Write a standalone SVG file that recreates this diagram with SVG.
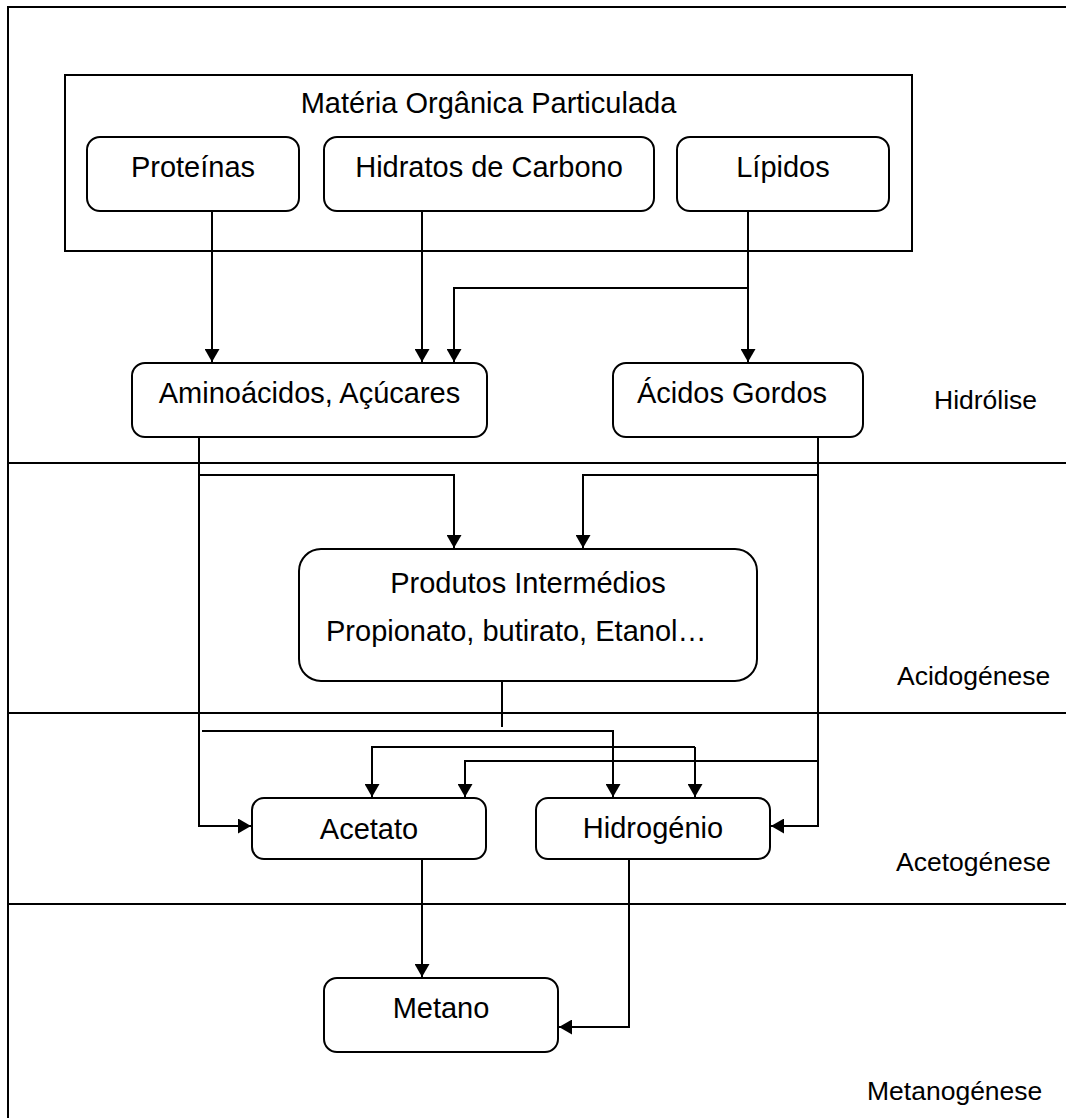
<svg xmlns="http://www.w3.org/2000/svg" width="1066" height="1118" viewBox="0 0 1066 1118">
  <style>
    .frame { fill: none; stroke: #000; stroke-width: 2; }
    .box { fill: #fff; stroke: #000; stroke-width: 2; }
    .lbl { font-family: "Liberation Sans", Arial, sans-serif; font-size: 29px; fill: #000; text-anchor: middle; }
    .phase { font-family: "Liberation Sans", Arial, sans-serif; font-size: 26.5px; fill: #000; }
    .wire { fill: none; stroke: #000; stroke-width: 2; }
    .arrow { fill: none; stroke: #000; stroke-width: 2; marker-end: url(#head); }
  </style>
  <defs>
    <marker id="head" markerUnits="userSpaceOnUse" markerWidth="14" markerHeight="15" refX="13" refY="7.5" orient="auto">
      <path d="M0,0 L13,7.5 L0,15 z" fill="#000"/>
    </marker>
  </defs>

  <rect width="1066" height="1118" fill="#fff"/>

  <!-- outer frame and phase dividers -->
  <g id="phases">
    <rect class="frame" x="8" y="7" width="1070" height="1130"/>
    <line class="frame" x1="8" y1="463" x2="1066" y2="463"/>
    <line class="frame" x1="8" y1="713" x2="1066" y2="713"/>
    <line class="frame" x1="8" y1="904" x2="1066" y2="904"/>
    <text class="phase" x="934" y="409">Hidrólise</text>
    <text class="phase" x="897" y="685">Acidogénese</text>
    <text class="phase" x="896" y="871">Acetogénese</text>
    <text class="phase" x="867" y="1100">Metanogénese</text>
  </g>

  <!-- connectors -->
  <g id="connectors">
    <!-- hydrolysis -->
    <path class="arrow" d="M212,211 V362"/>
    <path class="arrow" d="M422,211 V362"/>
    <path class="arrow" d="M748,211 V362"/>
    <path class="arrow" d="M748,288 H454 V362"/>
    <!-- acidogenesis -->
    <path class="arrow" d="M199,437 V826 H251"/>
    <path class="arrow" d="M199,475 H454 V548"/>
    <path class="arrow" d="M818,437 V826 H771"/>
    <path class="arrow" d="M818,475 H583 V548"/>
    <!-- acetogenesis -->
    <path class="wire" d="M502,681 V727"/>
    <path class="arrow" d="M202,731 H613 V797"/>
    <path class="arrow" d="M695,747 H372 V797"/>
    <path class="arrow" d="M695,747 V797"/>
    <path class="arrow" d="M818,761 H465 V797"/>
    <!-- methanogenesis -->
    <path class="arrow" d="M422,859 V977"/>
    <path class="arrow" d="M629,859 V1027 H559"/>
  </g>

  <!-- nodes -->
  <g id="materia-organica">
    <rect class="frame" x="65" y="75" width="847" height="176"/>
    <text class="lbl" x="488.5" y="113">Matéria Orgânica Particulada</text>
  </g>
  <g id="proteinas">
    <rect class="box" x="87" y="137" width="212" height="74" rx="13"/>
    <text class="lbl" x="193" y="177">Proteínas</text>
  </g>
  <g id="hidratos">
    <rect class="box" x="324" y="137" width="330" height="74" rx="13"/>
    <text class="lbl" x="489" y="177">Hidratos de Carbono</text>
  </g>
  <g id="lipidos">
    <rect class="box" x="677" y="137" width="212" height="74" rx="13"/>
    <text class="lbl" x="783" y="177">Lípidos</text>
  </g>
  <g id="aminoacidos">
    <rect class="box" x="132" y="363" width="355" height="74" rx="13"/>
    <text class="lbl" x="309.5" y="403">Aminoácidos, Açúcares</text>
  </g>
  <g id="acidos-gordos">
    <rect class="box" x="613" y="363" width="250" height="74" rx="13"/>
    <text class="lbl" x="732" y="403">Ácidos Gordos</text>
  </g>
  <g id="produtos">
    <rect class="box" x="299" y="549" width="458" height="132" rx="22"/>
    <text class="lbl" x="528" y="593">Produtos Intermédios</text>
    <text class="lbl" x="326" y="641" style="text-anchor:start">Propionato, butirato, Etanol…</text>
  </g>
  <g id="acetato">
    <rect class="box" x="252" y="798" width="234" height="61" rx="12"/>
    <text class="lbl" x="369" y="839">Acetato</text>
  </g>
  <g id="hidrogenio">
    <rect class="box" x="536" y="798" width="234" height="61" rx="12"/>
    <text class="lbl" x="653" y="838">Hidrogénio</text>
  </g>
  <g id="metano">
    <rect class="box" x="324" y="978" width="234" height="74" rx="13"/>
    <text class="lbl" x="441" y="1018">Metano</text>
  </g>
</svg>
